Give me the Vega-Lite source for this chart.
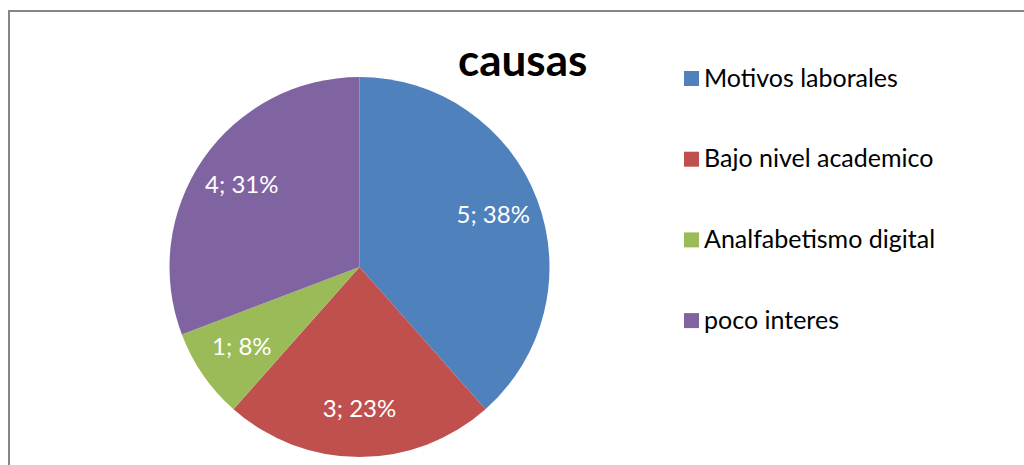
{
  "$schema": "https://vega.github.io/schema/vega-lite/v6.json",
  "autosize": "none",
  "width": 1030,
  "height": 470,
  "padding": {"left": 9, "top": 11, "right": -15, "bottom": -16},
  "background": "white",
  "view": {"stroke": "#868686", "strokeWidth": 2, "fill": "white"},
  "config": {
    "view": {"stroke": "#868686", "strokeWidth": 2},
    "font": "Lato"
  },
  "title": {
    "text": "causas",
    "anchor": "start",
    "frame": "group",
    "font": "Lato",
    "fontSize": 44,
    "fontWeight": "bold",
    "color": "#000000",
    "baseline": "alphabetic",
    "offset": 0,
    "dx": 449,
    "dy": 109
  },
  "data": {
    "values": [
      {"causa": "Motivos laborales", "n": 5, "pct": "38%", "orden": 1},
      {"causa": "Bajo nivel academico", "n": 3, "pct": "23%", "orden": 2},
      {"causa": " Analfabetismo digital", "n": 1, "pct": "8%", "orden": 3},
      {"causa": "poco interes", "n": 4, "pct": "31%", "orden": 4}
    ]
  },
  "transform": [
    {"calculate": "datum.n + '; ' + datum.pct", "as": "etiqueta"}
  ],
  "encoding": {
    "theta": {"field": "n", "type": "quantitative", "stack": true},
    "order": {"field": "orden", "type": "quantitative"},
    "color": {
      "field": "causa",
      "type": "nominal",
      "sort": ["Motivos laborales", "Bajo nivel academico", " Analfabetismo digital", "poco interes"],
      "scale": {
        "domain": ["Motivos laborales", "Bajo nivel academico", " Analfabetismo digital", "poco interes"],
        "range": ["#4F81BD", "#C0504D", "#9BBB59", "#8064A2"]
      },
      "legend": {
        "title": null,
        "orient": "none",
        "legendX": 670,
        "legendY": 55,
        "symbolType": "square",
        "symbolSize": 225,
        "symbolStrokeWidth": 0,
        "labelFont": "Lato",
        "labelFontSize": 25,
        "labelColor": "#000000",
        "labelOffset": 0,
        "labelLimit": 400,
        "rowPadding": 54.7
      }
    }
  },
  "layer": [
    {
      "mark": {"type": "arc", "outerRadius": 190, "x": 350.5, "y": 256, "stroke": null}
    },
    {
      "mark": {"type": "text", "radius": 143, "x": 350.5, "y": 256, "fontSize": 24, "font": "Lato", "fill": "white", "align": "center", "baseline": "middle"},
      "encoding": {
        "text": {"field": "etiqueta", "type": "nominal"},
        "color": {"value": "white"}
      }
    }
  ]
}
